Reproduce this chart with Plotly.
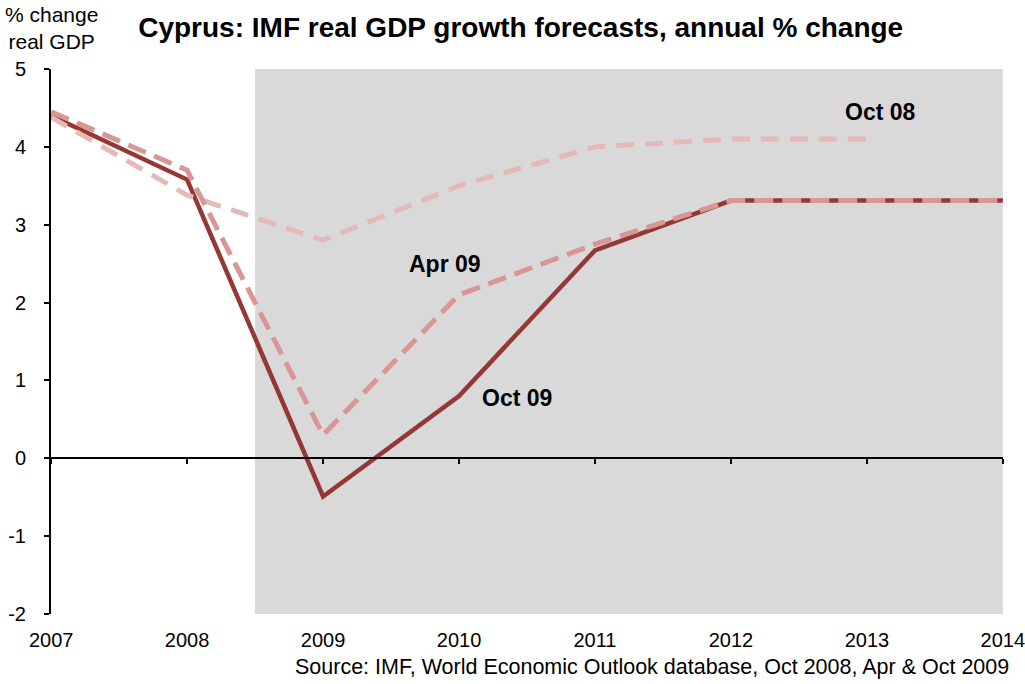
import plotly.graph_objects as go

years = [2007, 2008, 2009, 2010, 2011, 2012, 2013, 2014]
oct09 = [4.4, 3.58, -0.49, 0.8, 2.67, 3.31, 3.31, 3.31]
apr09 = [4.45, 3.7, 0.3, 2.1, 2.75, 3.31, 3.31, 3.31]
oct08_years = [2007, 2008, 2009, 2010, 2011, 2012, 2013]
oct08 = [4.38, 3.38, 2.8, 3.5, 4.0, 4.1, 4.1]

y_ticks = [-2, -1, 0, 1, 2, 3, 4, 5]
y_ticktext = ["-2", "-1", "0", "1", "2", "3", "4", "5"]

forecast_start = 2008.5
y_min, y_max = -2, 5

c_oct09 = "#953735"
c_apr09 = "#d99694"
c_oct08 = "#e6b9b8"

FONT = "Liberation Sans, Arial"

fig = go.Figure()
fig.add_trace(go.Scatter(x=years, y=oct09, mode="lines", name="Oct 09",
                         line=dict(color=c_oct09, width=4.5)))
fig.add_trace(go.Scatter(x=oct08_years, y=oct08, mode="lines", name="Oct 08",
                         line=dict(color=c_oct08, width=5, dash="18px,11px")))
fig.add_trace(go.Scatter(x=years, y=apr09, mode="lines", name="Apr 09",
                         line=dict(color=c_apr09, width=5, dash="19px,9px")))

fig.add_shape(type="rect", xref="x", yref="y", x0=forecast_start, x1=years[-1],
              y0=y_min, y1=y_max, fillcolor="#d9d9d9", line=dict(width=0), layer="below")

lab_font = dict(family=FONT, size=23, color="black")
fig.add_annotation(x=2013.1, y=4.45, text="<b>Oct 08</b>", showarrow=False, font=lab_font)
fig.add_annotation(x=2009.9, y=2.5, text="<b>Apr 09</b>", showarrow=False, font=lab_font)
fig.add_annotation(x=2010.43, y=0.78, text="<b>Oct 09</b>", showarrow=False, font=lab_font)

fig.add_annotation(xref="paper", yref="paper", x=0.0, y=1.0, yshift=41, xanchor="center",
                   yanchor="middle",
                   text="% change<br>real GDP", showarrow=False, align="center",
                   font=dict(family=FONT, size=21, color="black"))
fig.add_annotation(xref="paper", yref="paper", x=1.008, y=0, yshift=-53, xanchor="right",
                   yanchor="middle",
                   text="Source: IMF, World Economic Outlook database, Oct 2008, Apr & Oct 2009",
                   showarrow=False,
                   font=dict(family=FONT, size=21.5, color="black"))

fig.update_layout(
    width=1025, height=684,
    margin=dict(l=51, r=22, t=69, b=70, autoexpand=False),
    paper_bgcolor="white", plot_bgcolor="white",
    showlegend=False,
    title=dict(text="<b>Cyprus: IMF real GDP growth forecasts, annual % change</b>",
               x=0.508, xanchor="center", y=0.96, yanchor="middle",
               font=dict(family=FONT, size=28, color="black")),
    xaxis=dict(range=[years[0] - 0.001, years[-1] + 0.001], tickvals=years,
               ticktext=[str(y) for y in years], automargin=False,
               ticklabeloverflow="allow",
               showgrid=False, zeroline=False, showline=False, ticks="",
               ticklabelstandoff=12,
               tickfont=dict(family=FONT, size=20, color="black")),
    xaxis2=dict(range=[years[0] - 0.001, years[-1] + 0.001], overlaying="x", anchor="free",
                position=(0 - y_min) / (y_max - y_min), side="bottom",
                tickvals=years, showticklabels=False, showgrid=False, zeroline=False,
                showline=True, linecolor="black", linewidth=2,
                ticks="outside", ticklen=5, tickwidth=2, tickcolor="black"),
    yaxis=dict(range=[y_min, y_max], tickvals=y_ticks, ticktext=y_ticktext,
               showgrid=False, zeroline=False, automargin=False,
               showline=True, linecolor="black", linewidth=2,
               ticks="outside", ticklen=5, tickwidth=2, tickcolor="black",
               ticklabelstandoff=14,
               tickfont=dict(family=FONT, size=20, color="black")),
)
fig.add_trace(go.Scatter(x=[years[0]], y=[0], xaxis="x2", mode="markers",
                         marker=dict(opacity=0), hoverinfo="skip", showlegend=False))

fig.write_html("out.html")
